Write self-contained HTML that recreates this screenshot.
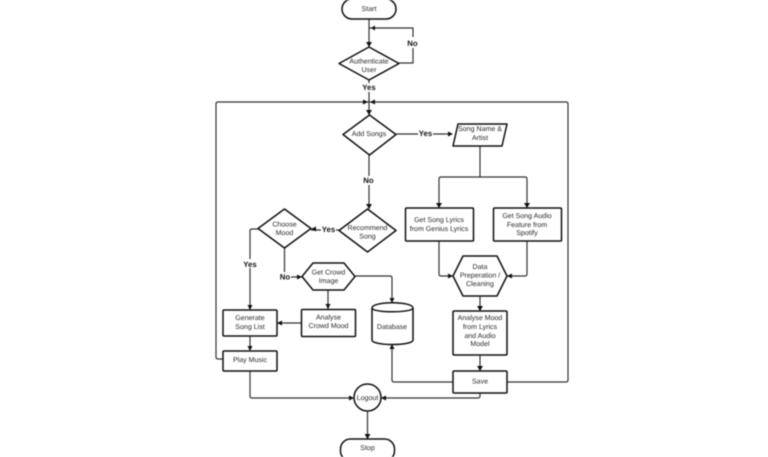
<!DOCTYPE html>
<html><head><meta charset="utf-8"><style>
html,body{margin:0;padding:0;background:#fff;width:768px;height:457px;overflow:hidden}
svg{display:block;filter:blur(.45px)}
text{font-family:"Liberation Sans",sans-serif;font-size:7.05px;fill:#2a2a2a;text-anchor:middle;text-rendering:geometricPrecision}
text.b{font-weight:bold;fill:#111;font-size:7.8px}
.s{fill:#fff;stroke:#111;stroke-width:1.5;stroke-linejoin:round}
.l{fill:none;stroke:#333;stroke-width:1.2;stroke-linejoin:round}
.a{fill:#111;stroke:none}
</style></head><body>
<svg width="768" height="457" viewBox="0 0 768 457" xmlns="http://www.w3.org/2000/svg">
<!-- connectors -->
<path class="l" d="M369 19V47M399 63H413V28H369M369 80V115M369 102H218Q216 102 216 104V357Q216 359 218 359H223M568 104Q568 102 566 102H369M507 382H566Q568 382 568 380V104"/>
<path class="l" d="M396 134H450M369 155V209M480 146V177M439 208V179Q439 177 441 177H525Q527 177 527 179V208"/>
<path class="l" d="M439 241V274Q439 276 441 276H453M527 241V274Q527 276 525 276H507M480 296V311M480 355V371"/>
<path class="l" d="M453 382H394Q392 382 392 380V344M480 393V396Q480 398 478 398H381M367.500 411V439"/>
<path class="l" d="M339 230H311M258 229H252Q250 229 250 231V310M284.500 248V275Q284.500 277 286 277H302M355 276H390Q392 276 392 278V303M328 290V309M301 323H277M250 336V351M250 371V396Q250 398 252 398H354"/>
<!-- arrowheads -->
<path class="a" d="M366 42L372 42L369 47ZM371 28L375 25.500V30.500ZM366 110L372 110L369 115ZM368 102L363 99.500V104.500ZM370 102L375 99.500V104.500ZM453 134L448 131.500V136.500ZM436 203H442L439 208ZM524 203H530L527 208ZM453 276L448 273.500V278.500ZM507 276L512 273.500V278.500ZM477 306H483L480 311ZM477 366H483L480 371ZM392 344L389.500 349H394.500ZM381 398L386 395.500V400.500ZM354 398L349 395.500V400.500ZM364.500 434H370.500L367.500 439ZM311 229L316 226.500V231.500ZM247.500 305H252.500L250 310ZM302 277L297 274.500V279.500ZM389.500 298H394.500L392 303ZM325.500 304H330.500L328 309ZM277 323L282 320.500V325.500ZM247.500 346H252.500L250 351ZM366 204H372L369 209Z"/>
<!-- shapes -->
<rect class="s" x="342" y="-1" width="54" height="20" rx="10"/>
<path class="s" d="M369 47L399 63.500L369 80L339 63.500Z"/>
<path class="s" d="M369.500 115L396 134.500L369.500 155L343 134.500Z"/>
<path class="s" d="M458 124H507L502 146H453Z"/>
<rect class="s" x="405.500" y="208" width="68" height="33" rx="1"/>
<rect class="s" x="493.500" y="208" width="68" height="33" rx="1"/>
<path class="s" d="M463 256H497L507 276L497 296H463L453 276Z"/>
<rect class="s" x="453" y="311" width="54" height="44" rx="1"/>
<rect class="s" x="453" y="371" width="54" height="22" rx="1"/>
<path class="s" d="M372 308C372 301 413 301 413 308V340C413 346 372 346 372 340Z"/>
<path class="s" d="M372 308C372 313 413 313 413 308" style="fill:none"/>
<circle class="s" cx="367.500" cy="397.500" r="13.500"/>
<rect class="s" x="340.500" y="439" width="54" height="22" rx="10"/>
<path class="s" d="M367.500 209L396 230.500L367.500 252L339 230.500Z"/>
<path class="s" d="M284.500 209L311 228.500L284.500 248L258 228.500Z"/>
<path class="s" d="M313 263H344L355 276.500L344 290H313L302 276.500Z"/>
<rect class="s" x="301.500" y="309.500" width="54" height="27" rx="1"/>
<rect class="s" x="223" y="310" width="54" height="26" rx="1"/>
<rect class="s" x="223" y="351" width="54" height="20" rx="1"/>
<!-- labels -->
<text x="369" y="11">Start</text>
<text x="369" y="63.500">Authenticate</text><text x="369" y="72">User</text>
<rect x="405" y="37" width="15" height="11" fill="#fff"/>
<text class="b" x="412.500" y="46">No</text>
<rect x="360" y="83" width="18" height="9" fill="#fff"/>
<text class="b" x="369" y="90">Yes</text>
<text x="369" y="136">Add Songs</text>
<rect x="418" y="129" width="15" height="9" fill="#fff"/>
<text class="b" x="425.500" y="136">Yes</text>
<text x="480" y="131">Song Name &amp;</text><text x="480" y="140">Artist</text>
<rect x="361" y="176" width="15" height="9" fill="#fff"/>
<text class="b" x="368.500" y="183">No</text>
<text x="439" y="222">Get Song Lyrics</text><text x="439" y="231">from Genius Lyrics</text>
<text x="527" y="218">Get Song Audio</text><text x="527" y="227">Feature from</text><text x="527" y="235">Spotify</text>
<text x="480" y="269">Data</text><text x="480" y="277.500">Preperation /</text><text x="480" y="286">Cleaning</text>
<text x="480" y="320">Analyse Mood</text><text x="480" y="329">from Lyrics</text><text x="480" y="338">and Audio</text><text x="480" y="346">Model</text>
<text x="480" y="383.500">Save</text>
<text x="392" y="329">Database</text>
<text x="367.500" y="400">Logout</text>
<text x="367.500" y="450">Stop</text>
<text x="367.500" y="230">Recommend</text><text x="367.500" y="238.500">Song</text>
<rect x="321" y="225" width="15" height="9" fill="#fff"/>
<text class="b" x="328.500" y="232">Yes</text>
<text x="284.500" y="226.500">Choose</text><text x="284.500" y="235">Mood</text>
<rect x="242" y="259" width="16" height="9" fill="#fff"/>
<text class="b" x="250" y="267">Yes</text>
<rect x="279" y="272" width="12" height="9" fill="#fff"/>
<text class="b" x="285" y="279.500">No</text>
<text x="328.500" y="274.500">Get Crowd</text><text x="328.500" y="283">Image</text>
<text x="328.500" y="319.500">Analyse</text><text x="328.500" y="328">Crowd Mood</text>
<text x="250" y="320">Generate</text><text x="250" y="329">Song List</text>
<text x="250" y="362">Play Music</text>
</svg>
</body></html>
